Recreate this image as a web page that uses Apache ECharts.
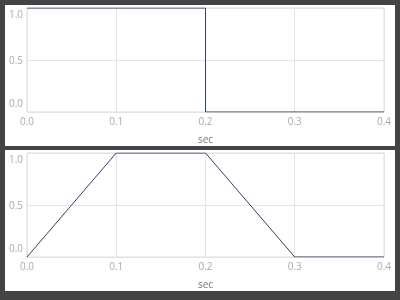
<!DOCTYPE html>
<html><head><meta charset="utf-8">
<script src="https://cdn.jsdelivr.net/npm/echarts@6/dist/echarts.min.js"></script>
<style>html,body{margin:0;padding:0;background:#444444;}#c{width:400px;height:300px;}</style>
</head><body><div id="c"></div>
<script>
// data
const xTicks = [0, 0.1, 0.2, 0.3, 0.4];
const yTicks = [0, 0.5, 1];
const stepX = [0, 0.2, 0.2, 0.4];
const stepY = [1, 1, 0, 0];
const trapX = [0, 0.1, 0.2, 0.3, 0.4];
const trapY = [0, 1, 1, 0, 0];

const chart = echarts.init(document.getElementById('c'), null, {renderer: 'canvas'});
const FONT = 'Open Sans';
const lineColor = '#2f4366';

function xAxis(gi) {
  return {
    type: 'value', gridIndex: gi, min: xTicks[0], max: xTicks[xTicks.length - 1], interval: 0.1,
    axisLine: {show: false}, axisTick: {show: false},
    splitLine: {show: true, lineStyle: {color: '#e4e4e4', width: 1}},
    axisLabel: {color: '#aaaaaa', fontSize: 10, fontFamily: FONT, margin: 5,
      formatter: v => v.toFixed(1)},
    name: 'sec', nameLocation: 'middle', nameGap: 23,
    nameTextStyle: {color: '#777777', fontSize: 10, fontFamily: FONT}
  };
}
function yAxis(gi) {
  return {
    type: 'value', gridIndex: gi, min: yTicks[0], max: yTicks[yTicks.length - 1], interval: 0.5,
    axisLine: {show: false}, axisTick: {show: false},
    splitLine: {show: true, lineStyle: {color: '#e4e4e4', width: 1}},
    axisLabel: {color: '#aaaaaa', fontSize: 10, fontFamily: FONT, margin: 4,
      formatter: v => v === 1 ? '{t|1.0}' : (v === 0 ? '{b|0.0}' : '{m|' + v.toFixed(1) + '}'),
      rich: {
        t: {color: '#aaaaaa', fontSize: 10, fontFamily: FONT, padding: [15, 0, 0, 0]},
        b: {color: '#aaaaaa', fontSize: 10, fontFamily: FONT, padding: [0, 0, 15, 0]},
        m: {color: '#aaaaaa', fontSize: 10, fontFamily: FONT, padding: [3, 0, 0, 0]}
      }}
  };
}
const option = {
  animation: false,
  backgroundColor: '#444444',
  graphic: [
    {type: 'rect', shape: {x: 5, y: 5, width: 390, height: 141}, style: {fill: '#ffffff'}, z: -10},
    {type: 'rect', shape: {x: 5, y: 150, width: 390, height: 141}, style: {fill: '#ffffff'}, z: -10}
  ],
  grid: [
    {left: 27, top: 8, right: 16, height: 104, show: true, borderColor: '#dcdcdc', borderWidth: 1, backgroundColor: '#ffffff', containLabel: false},
    {left: 27, top: 153, right: 16, height: 104, show: true, borderColor: '#dcdcdc', borderWidth: 1, backgroundColor: '#ffffff', containLabel: false}
  ],
  xAxis: [xAxis(0), xAxis(1)],
  yAxis: [yAxis(0), yAxis(1)],
  series: [
    {type: 'line', xAxisIndex: 0, yAxisIndex: 0, data: stepX.map((x, i) => [x, stepY[i]]),
      showSymbol: false, symbol: 'none', lineStyle: {color: lineColor, width: 1}},
    {type: 'line', xAxisIndex: 1, yAxisIndex: 1, data: trapX.map((x, i) => [x, trapY[i]]),
      showSymbol: false, symbol: 'none', lineStyle: {color: lineColor, width: 1}}
  ]
};
chart.setOption(option);
</script></body></html>
